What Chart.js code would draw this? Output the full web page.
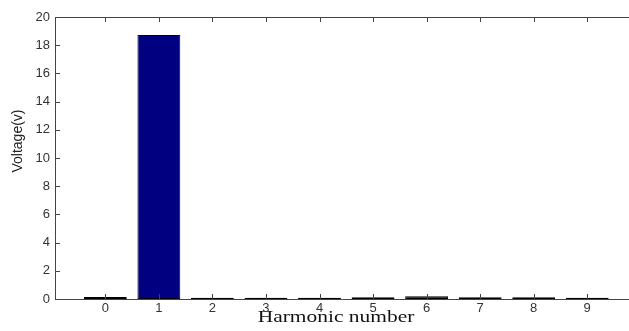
<!DOCTYPE html>
<html>
<head>
<meta charset="utf-8">
<script src="https://cdn.jsdelivr.net/npm/chart.js@4"></script>
<style>
    body { margin: 0; background: #fff; overflow: hidden; }
</style>
</head>
<body>
<canvas id="harmonicChart" width="629" height="331"></canvas>
<script>
// Harmonic spectrum data
const harmonics = [0, 1, 2, 3, 4, 5, 6, 7, 8, 9];
const voltages = [0.15, 18.72, 0.08, 0.08, 0.08, 0.12, 0.2, 0.12, 0.12, 0.08];
const yTicks = [0, 2, 4, 6, 8, 10, 12, 14, 16, 18, 20];
const xTitle = 'Harmonic number';
const yTitle = 'Voltage(v)';

// Inward ticks, top box line and axis titles (matlab style)
const boxTicks = {
    id: 'boxTicks',
    afterDraw: function(chart) {
        const ctx = chart.ctx;
        const area = chart.chartArea;
        const x = chart.scales.x;
        const y = chart.scales.y;
        ctx.save();
        ctx.strokeStyle = '#444';
        ctx.lineWidth = 1;
        ctx.beginPath();
        ctx.moveTo(area.left, area.top + 0.5);
        ctx.lineTo(area.right, area.top + 0.5);
        harmonics.forEach(function(h) {
            const px = Math.round(x.getPixelForValue(h)) + 0.5;
            ctx.moveTo(px, area.bottom);
            ctx.lineTo(px, area.bottom - 5);
            ctx.moveTo(px, area.top);
            ctx.lineTo(px, area.top + 5);
        });
        yTicks.forEach(function(v) {
            const py = Math.round(y.getPixelForValue(v)) + 0.5;
            ctx.moveTo(area.left, py);
            ctx.lineTo(area.left + 5, py);
        });
        ctx.stroke();

        // x title (source picture is stretched horizontally)
        ctx.fillStyle = '#111';
        ctx.textAlign = 'center';
        ctx.textBaseline = 'alphabetic';
        ctx.font = '16px "Liberation Serif"';
        ctx.save();
        ctx.translate(336, 322);
        ctx.scale(1.34, 1);
        ctx.fillText(xTitle, 0, 0);
        ctx.restore();

        // y title
        ctx.font = '14px "Liberation Sans"';
        ctx.fillStyle = '#222';
        ctx.save();
        ctx.translate(22, 141);
        ctx.rotate(-Math.PI / 2);
        ctx.fillText(yTitle, 0, 0);
        ctx.restore();
        ctx.restore();
    }
};

new Chart(document.getElementById('harmonicChart'), {
    type: 'bar',
    data: {
        datasets: [{
            data: harmonics.map(function(h, i) { return { x: h, y: voltages[i] }; }),
            backgroundColor: '#000080',
            borderColor: '#000000',
            borderWidth: 1,
            borderSkipped: false,
            barPercentage: 0.8,
            categoryPercentage: 1.0
        }]
    },
    options: {
        responsive: false,
        animation: false,
        layout: { padding: { top: 17, right: 0, left: 0, bottom: 0 } },
        plugins: {
            legend: { display: false },
            tooltip: { enabled: false }
        },
        scales: {
            x: {
                type: 'linear',
                offset: false,
                min: -0.94,
                max: 9.78,
                afterFit: function(scale) { scale.height = 32; },
                afterBuildTicks: function(scale) {
                    scale.ticks = harmonics.map(function(h) { return { value: h }; });
                },
                ticks: {
                    color: '#333',
                    font: { family: 'Liberation Sans', size: 13 },
                    padding: 2,
                    maxRotation: 0,
                    callback: function(v) { return String(v); }
                },
                grid: { display: false, drawTicks: false, offset: false },
                border: { display: true, color: '#444' }
            },
            y: {
                min: 0,
                max: 20,
                afterFit: function(scale) { scale.width = 55; },
                afterBuildTicks: function(scale) {
                    scale.ticks = yTicks.map(function(v) { return { value: v }; });
                },
                ticks: {
                    color: '#333',
                    font: { family: 'Liberation Sans', size: 13 },
                    padding: 5
                },
                grid: { display: false, drawTicks: false },
                border: { display: true, color: '#444' }
            }
        }
    },
    plugins: [boxTicks]
});
</script>
</body>
</html>
